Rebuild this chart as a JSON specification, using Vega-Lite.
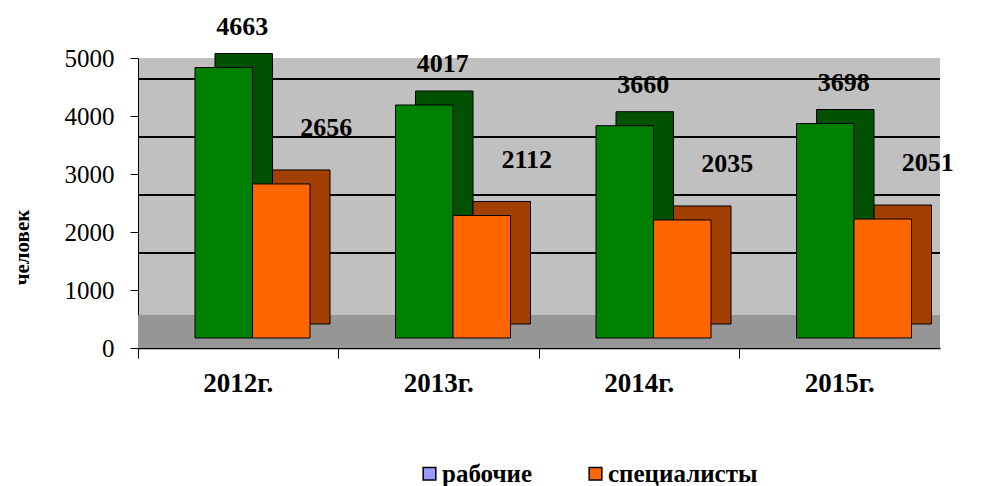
{
  "$schema": "https://vega.github.io/schema/vega-lite/v6.json",
  "width": 802,
  "height": 290,
  "autosize": {"type": "none"},
  "padding": {"left": 138, "top": 58, "right": 41, "bottom": 138},
  "background": "white",
  "config": {
    "view": {"fill": "#C0C0C0", "stroke": null},
    "font": "Liberation Serif"
  },
  "data": {
    "values": [
      {"year": "2012г.", "series": "рабочие", "value": 4663},
      {"year": "2012г.", "series": "специалисты", "value": 2656},
      {"year": "2013г.", "series": "рабочие", "value": 4017},
      {"year": "2013г.", "series": "специалисты", "value": 2112},
      {"year": "2014г.", "series": "рабочие", "value": 3660},
      {"year": "2014г.", "series": "специалисты", "value": 2035},
      {"year": "2015г.", "series": "рабочие", "value": 3698},
      {"year": "2015г.", "series": "специалисты", "value": 2051}
    ]
  },
  "encoding": {
    "x": {
      "field": "year", "type": "nominal", "sort": null,
      "scale": {"paddingInner": 0, "paddingOuter": 0},
      "axis": {
        "title": null, "labelAngle": 0, "labelFont": "Liberation Serif", "labelFontSize": 27,
        "labelFontWeight": "bold", "labelColor": "black", "labelPadding": 12,
        "domainColor": "black", "domainWidth": 1.5, "tickColor": "black", "tickSize": 10,
        "bandPosition": 0, "grid": false
      }
    },
    "y": {
      "field": "value", "type": "quantitative",
      "scale": {"domain": [0, 5000]},
      "axis": {
        "title": "человек", "titleFont": "Liberation Serif", "titleFontSize": 21, "titleFontWeight": "bold",
        "titleColor": "black", "titleAngle": -90, "titleX": -116, "titleY": 189, "titleAlign": "center", "titleBaseline": "middle",
        "values": [0, 1000, 2000, 3000, 4000, 5000], "format": "d",
        "labelFont": "Liberation Serif", "labelFontSize": 25, "labelColor": "black", "labelPadding": 16,
        "domainColor": "black", "tickColor": "black", "tickSize": 8, "grid": false
      }
    }
  },
  "resolve": {"scale": {"xOffset": "independent"}},
  "layer": [
    {
      "mark": {"type": "rect", "fill": "#969696"},
      "encoding": {"x": null, "y": {"datum": 0}, "y2": {"datum": 570}}
    },
    {
      "mark": {"type": "rule", "color": "black", "strokeWidth": 1.5, "yOffset": -37},
      "encoding": {"x": null, "y": {"datum": 1000}}
    },
    {
      "mark": {"type": "rule", "color": "black", "strokeWidth": 1.5, "yOffset": -37},
      "encoding": {"x": null, "y": {"datum": 2000}}
    },
    {
      "mark": {"type": "rule", "color": "black", "strokeWidth": 1.5, "yOffset": -37},
      "encoding": {"x": null, "y": {"datum": 3000}}
    },
    {
      "mark": {"type": "rule", "color": "black", "strokeWidth": 1.5, "yOffset": -37},
      "encoding": {"x": null, "y": {"datum": 4000}}
    },
    {
      "mark": {"type": "bar", "stroke": "black", "strokeWidth": 1, "yOffset": -24},
      "encoding": {
        "xOffset": {"field": "series", "sort": ["рабочие", "специалисты"], "scale": {"range": [77, 192], "paddingInner": 0, "paddingOuter": 0}},
        "fill": {
          "condition": {"test": "datum.series === 'рабочие'", "value": "#005200"},
          "value": "#A33F00"
        }
      }
    },
    {
      "mark": {"type": "bar", "stroke": "black", "strokeWidth": 1, "yOffset": -10},
      "encoding": {
        "xOffset": {"field": "series", "sort": ["рабочие", "специалисты"], "scale": {"range": [57, 172], "paddingInner": 0, "paddingOuter": 0}},
        "fill": {
          "condition": {"test": "datum.series === 'рабочие'", "value": "#008000"},
          "field": "series", "type": "nominal",
          "scale": {"domain": ["рабочие", "специалисты"], "range": ["#9999FF", "#FF6600"]},
          "legend": {
            "title": null, "orient": "none", "direction": "horizontal",
            "legendX": 279, "legendY": 403,
            "symbolType": "square", "symbolSize": 160, "symbolStrokeColor": "black", "symbolStrokeWidth": 1.5,
            "labelFont": "Liberation Serif", "labelFontSize": 25, "labelFontWeight": "bold", "labelColor": "black",
            "labelOffset": 0, "columnPadding": 50, "labelLimit": 300
          }
        }
      }
    },
    {
      "transform": [{"filter": "datum.series === 'рабочие'"}],
      "mark": {"type": "text", "font": "Liberation Serif", "fontSize": 26, "fontWeight": "bold", "color": "black", "baseline": "middle", "xOffset": 4, "yOffset": -51},
      "encoding": {"text": {"field": "value", "type": "quantitative", "format": "d"}}
    },
    {
      "transform": [{"filter": "datum.series === 'специалисты'"}],
      "mark": {"type": "text", "font": "Liberation Serif", "fontSize": 26, "fontWeight": "bold", "color": "black", "baseline": "middle", "xOffset": 88, "yOffset": -66},
      "encoding": {"text": {"field": "value", "type": "quantitative", "format": "d"}}
    }
  ]
}
